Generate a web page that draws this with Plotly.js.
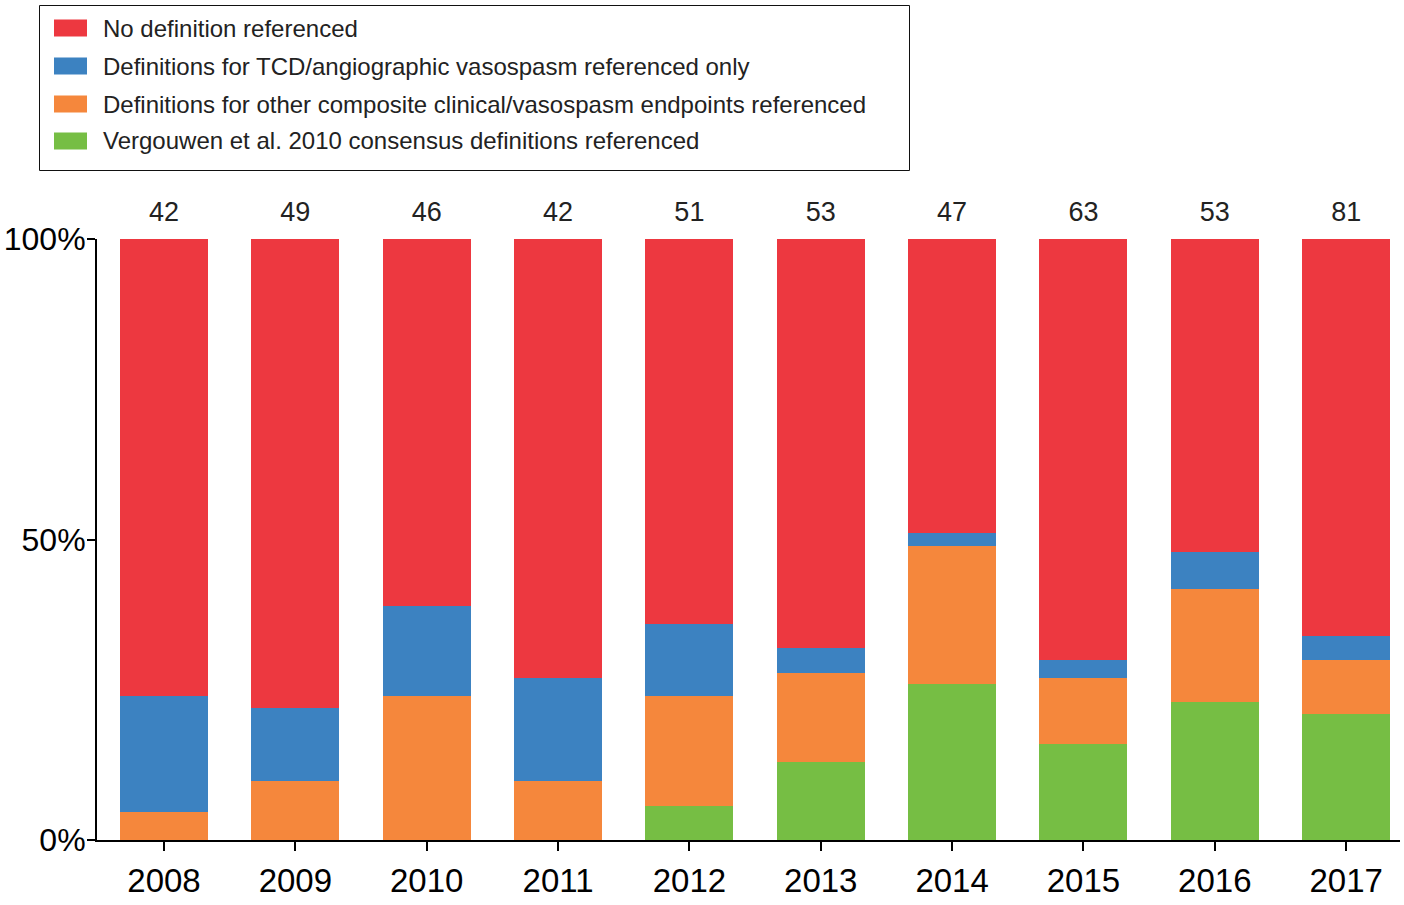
<!DOCTYPE html>
<html>
<head>
<meta charset="utf-8">
<script src="https://cdn.plot.ly/plotly-3.0.1.min.js"></script>
<style>html,body{margin:0;padding:0;background:#fff;}#chart{width:1404px;height:905px;}</style>
</head>
<body>
<div id="chart"></div>
<script>
// ---- data ----
const years = ["2008","2009","2010","2011","2012","2013","2014","2015","2016","2017"];
const totals = [42, 49, 46, 42, 51, 53, 47, 63, 53, 81];
const consensusPct = [0, 0, 0, 0, 5.7, 12.9, 25.9, 15.9, 22.9, 20.9];
const compositePct = [4.7, 9.9, 23.9, 9.9, 18.2, 14.9, 23.0, 11.0, 18.9, 9.0];
const tcdPct = [19.2, 12.0, 15.0, 17.0, 12.0, 4.1, 2.1, 3.0, 6.2, 4.0];
const noDefPct = [76.1, 78.1, 61.1, 73.1, 64.1, 68.1, 49.0, 70.1, 52.0, 66.1];
const seriesNames = [
  "No definition referenced",
  "Definitions for TCD/angiographic vasospasm referenced only",
  "Definitions for other composite clinical/vasospasm endpoints referenced",
  "Vergouwen et al. 2010 consensus definitions referenced"
];
const seriesColors = ["#ED3840", "#3C82C1", "#F5873C", "#76BE44"];

// ---- layout geometry (pixels) ----
const W = 1404, H = 905;
const L = 97, R = 4, T = 239, B = 65;
const plotW = W - L - R, plotH = H - T - B;
const px = x => (x - L) / plotW;
const py = y => (H - B - y) / plotH;

const FONT = "Liberation Sans, Arial, Helvetica, sans-serif";

// stacking bottom -> top
const stackData = [consensusPct, compositePct, tcdPct, noDefPct];
const stackNames = [seriesNames[3], seriesNames[2], seriesNames[1], seriesNames[0]];
const stackColors = [seriesColors[3], seriesColors[2], seriesColors[1], seriesColors[0]];

const traces = stackData.map((vals, i) => ({
  type: "bar",
  x: years,
  y: vals,
  name: stackNames[i],
  marker: {color: stackColors[i], line: {width: 0}},
  showlegend: false,
  hoverinfo: "x+y+name"
}));

// total counts above each bar (placed at the top of the 100% stack)
traces.push({
  type: "scatter",
  mode: "markers+text",
  x: years,
  y: years.map(() => 100),
  text: totals.map(String),
  textposition: "top center",
  textfont: {family: FONT, size: 27, color: "#222"},
  marker: {size: 17, color: "rgba(0,0,0,0)", line: {width: 0}},
  cliponaxis: false,
  showlegend: false,
  hoverinfo: "skip"
});

const annotations = [];
const shapes = [{
  type: "rect", xref: "paper", yref: "paper",
  x0: px(39.5), x1: px(909.5), y0: py(5.5), y1: py(170.5),
  line: {color: "#111", width: 1}, fillcolor: "rgba(0,0,0,0)"
}];

const rowY = [28, 66, 104, 141];
seriesNames.forEach((nm, i) => {
  shapes.push({
    type: "rect", xref: "paper", yref: "paper",
    x0: px(54), x1: px(87), y0: py(rowY[i] - 8.5), y1: py(rowY[i] + 8.5),
    line: {width: 0}, fillcolor: seriesColors[i]
  });
  annotations.push({
    xref: "paper", yref: "paper",
    x: px(101), y: py(rowY[i]),
    xanchor: "left", yanchor: "middle",
    text: nm, showarrow: false,
    font: {family: FONT, size: 24, color: "#222"}
  });
});

const layout = {
  width: W, height: H,
  margin: {l: L, r: R, t: T, b: B, pad: 0},
  paper_bgcolor: "#fff", plot_bgcolor: "#fff",
  barmode: "stack",
  bargap: 0.33,
  showlegend: false,
  xaxis: {
    type: "category",
    range: [-0.51, 9.41],
    showgrid: false, zeroline: false,
    showline: true, linecolor: "#000", linewidth: 2,
    ticks: "outside", ticklen: 9, tickwidth: 2, tickcolor: "#000",
    tickfont: {family: FONT, size: 33, color: "#000"},
    ticklabelstandoff: 1
  },
  yaxis: {
    range: [0, 100],
    tickvals: [0, 50, 100],
    ticktext: ["0%", "50%", "100%"],
    showgrid: false, zeroline: false,
    showline: true, linecolor: "#000", linewidth: 2,
    ticks: "outside", ticklen: 8, tickwidth: 2, tickcolor: "#000",
    tickfont: {family: FONT, size: 32, color: "#000"},
    ticklabelstandoff: -5
  },
  annotations: annotations,
  shapes: shapes
};

Plotly.newPlot("chart", traces, layout, {displayModeBar: false, staticPlot: true});
</script>
</body>
</html>
